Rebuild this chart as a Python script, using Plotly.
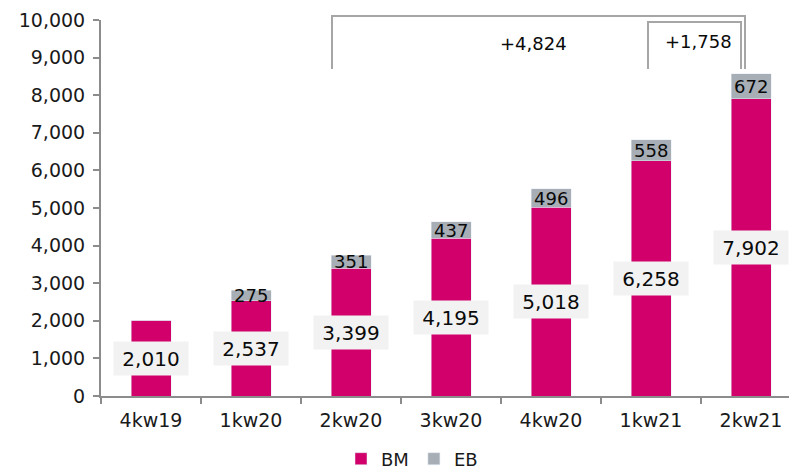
import plotly.graph_objects as go

categories = ["4kw19", "1kw20", "2kw20", "3kw20", "4kw20", "1kw21", "2kw21"]
bm_values = [2010, 2537, 3399, 4195, 5018, 6258, 7902]
eb_values = [0, 275, 351, 437, 496, 558, 672]
bracket_labels = ["+4,824", "+1,758"]

BM_COLOR = "#D1006B"
EB_COLOR = "#A7AEB5"
FONT = "DejaVu Sans"
TXT = "#0A0A0A"

# The page adds an 8px body margin, so the figure is drawn 8px smaller and
# the plot area is placed to land at screen x 101..797, y 20..396.
OFF = 8

fig = go.Figure()
fig.add_trace(go.Bar(x=categories, y=bm_values, name="BM", marker_color=BM_COLOR,
                     width=0.4, hoverinfo="skip"))
fig.add_trace(go.Bar(x=categories, y=eb_values, name="EB", marker_color=EB_COLOR,
                     width=0.4, hoverinfo="skip"))

annotations = []
for i, (c, b, e) in enumerate(zip(categories, bm_values, eb_values)):
    annotations.append(dict(x=c, y=b / 2, text=f"{b:,}", showarrow=False,
                            font=dict(family=FONT, size=20, color=TXT),
                            bgcolor="#F2F2F2", borderpad=6, width=62, height=21))
    if e:
        annotations.append(dict(x=c, y=b + e / 2, text=f"{e:,}", showarrow=False,
                                font=dict(family=FONT, size=18, color=TXT)))

def px_x(px):
    return (px - 101) / 696

def px_y(py):
    return (396 - py) / 376

annotations.append(dict(x=px_x(533), y=px_y(43), xref="paper", yref="paper",
                        xanchor="center", yanchor="middle",
                        text=bracket_labels[0], showarrow=False,
                        font=dict(family=FONT, size=18, color=TXT)))
annotations.append(dict(x=px_x(698), y=px_y(42), xref="paper", yref="paper",
                        xanchor="center", yanchor="middle",
                        text=bracket_labels[1], showarrow=False,
                        font=dict(family=FONT, size=18, color=TXT)))

line = dict(color="#A6A6A6", width=2)
shapes = [
    dict(type="path", xref="paper", yref="paper",
         path=f"M {px_x(332)},{px_y(69)} L {px_x(332)},{px_y(16)} L {px_x(745)},{px_y(16)} L {px_x(745)},{px_y(69)}",
         line=line),
    dict(type="path", xref="paper", yref="paper",
         path=f"M {px_x(648)},{px_y(69)} L {px_x(648)},{px_y(22)} L {px_x(741)},{px_y(22)} L {px_x(741)},{px_y(69)}",
         line=line),
]

fig.update_layout(
    barmode="stack",
    width=797 - OFF, height=470 - OFF,
    margin=dict(l=101 - OFF, r=0, t=20 - OFF, b=74, autoexpand=False),
    plot_bgcolor="white", paper_bgcolor="white",
    font=dict(family=FONT, size=18, color="#1A1A1A"),
    showlegend=True,
    legend=dict(orientation="h", x=px_x(412), xanchor="center", y=px_y(459), yanchor="middle",
                font=dict(family=FONT, size=18, color="#1A1A1A"),
                traceorder="normal", itemwidth=30),
    annotations=annotations,
    shapes=shapes,
)
fig.update_xaxes(range=[-0.5, 6.46], showline=True, linecolor="#8C8C8C", linewidth=2,
                 ticks="outside", tickson="boundaries", ticklen=6, tickcolor="#8C8C8C",
                 tickwidth=2, tickfont=dict(family=FONT, size=19, color="#1A1A1A"),
                 ticklabelstandoff=6, automargin=False,
                 showgrid=False, fixedrange=True)
fig.update_yaxes(range=[0, 10000], dtick=1000, tickformat=",", showline=True,
                 linecolor="#8C8C8C", linewidth=2, ticks="outside", ticklen=6,
                 tickcolor="#8C8C8C", tickwidth=2, showgrid=False, zeroline=False,
                 automargin=False, ticklabelstandoff=4,
                 tickfont=dict(family=FONT, size=19, color="#1A1A1A"), fixedrange=True)

fig.write_html("out.html")
